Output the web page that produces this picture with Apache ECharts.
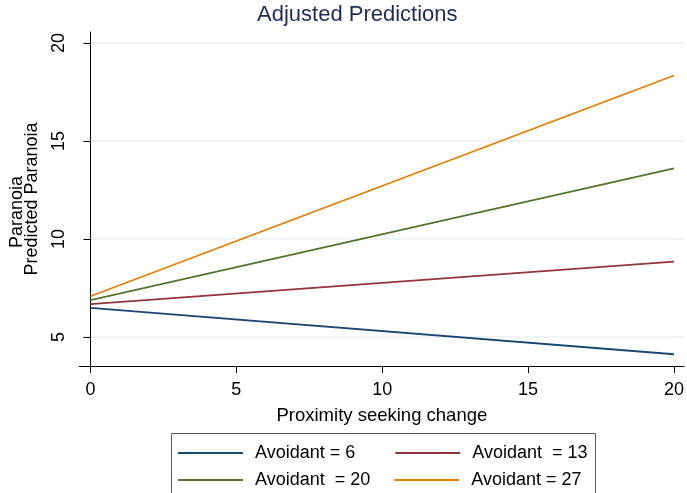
<!DOCTYPE html>
<html>
<head>
<meta charset="utf-8">
<script src="https://cdn.jsdelivr.net/npm/echarts@6/dist/echarts.min.js"></script>
<style>
  html, body { margin: 0; padding: 0; background: #fff; }
  #chart { width: 687px; height: 493px; }
</style>
</head>
<body>
<div id="chart"></div>
<script>
// x positions (Proximity seeking change)
var xVals = [0, 20];
// predicted paranoia at each x, one array per Avoidant level
var avoid6 = [6.49, 4.12];
var avoid13 = [6.68, 8.85];
var avoid20 = [6.88, 13.6];
var avoid27 = [7.08, 18.34];
var seriesNames = ['Avoidant = 6', 'Avoidant  = 13', 'Avoidant  = 20', 'Avoidant = 27'];
var colors = ['#1a476f', '#90353b', '#55752f', '#e37e00'];
var xTicks = [0, 5, 10, 15, 20];
var yTicks = [5, 10, 15, 20];

function pairs(ys) {
  return xVals.map(function (x, i) { return [x, ys[i]]; });
}

var allData = [avoid6, avoid13, avoid20, avoid27];
var font = 'Liberation Sans, Arial, sans-serif';

var legendCommon = {
  orient: 'horizontal',
  left: 178,
  padding: 0,
  itemWidth: 65,
  itemHeight: 2,
  icon: 'rect',
  textStyle: { fontFamily: font, fontSize: 18, color: '#000', padding: [0, 0, 0, 7] }
};

var option = {
  animation: false,
  backgroundColor: '#fff',
  color: colors,
  title: {
    text: 'Adjusted Predictions',
    left: 257,
    top: 4,
    padding: 0,
    textStyle: { fontFamily: font, fontSize: 22, fontWeight: 'normal', color: '#1e2d58' }
  },
  graphic: [{
    type: 'rect',
    shape: { x: 171.5, y: 433.5, width: 424, height: 80 },
    style: { fill: 'none', stroke: '#555', lineWidth: 1 },
    silent: true
  }],
  legend: [
    Object.assign({}, legendCommon, { top: 444, itemGap: 40, data: [seriesNames[0], seriesNames[1]] }),
    Object.assign({}, legendCommon, { top: 471, itemGap: 24, data: [seriesNames[2], seriesNames[3]] })
  ],
  grid: { left: 79, right: 0, top: 32, bottom: 127, containLabel: false },
  xAxis: {
    type: 'value',
    min: -0.375,
    max: 20.35,
    name: 'Proximity seeking change',
    nameLocation: 'middle',
    nameGap: 40,
    nameTextStyle: { fontFamily: font, fontSize: 18.5, color: '#000' },
    axisLine: { show: true, lineStyle: { color: '#000', width: 1 } },
    axisTick: { show: true, length: 7, customValues: xTicks, lineStyle: { color: '#000' } },
    axisLabel: { customValues: xTicks, margin: 15, fontFamily: font, fontSize: 18, color: '#000' },
    splitLine: { show: false }
  },
  yAxis: {
    type: 'value',
    min: 3.52,
    max: 20.56,
    name: '{a|Paranoia}\n{b|Predicted Paranoia}',
    nameLocation: 'middle',
    nameRotate: 90,
    nameGap: 40,
    nameTextStyle: {
      fontFamily: font, fontSize: 18, color: '#000', lineHeight: 15, align: 'center',
      rich: {
        a: { fontFamily: font, fontSize: 18, color: '#000', lineHeight: 15, padding: [0, 26, 0, 0] },
        b: { fontFamily: font, fontSize: 18, color: '#000', lineHeight: 15 }
      }
    },
    axisLine: { show: true, lineStyle: { color: '#000', width: 1 } },
    axisTick: { show: true, length: 7, customValues: yTicks, lineStyle: { color: '#000' } },
    axisLabel: { customValues: yTicks, rotate: 90, margin: 11, fontFamily: font, fontSize: 18, color: '#000' },
    splitLine: { show: true, lineStyle: { color: '#e8eff2', width: 1.5 } }
  },
  series: allData.map(function (d, i) {
    return {
      name: seriesNames[i],
      type: 'line',
      data: pairs(d),
      symbol: 'none',
      lineStyle: { width: 1.8, color: colors[i] },
      itemStyle: { color: colors[i] }
    };
  })
};

var myChart = echarts.init(document.getElementById('chart'), null, { renderer: 'canvas' });
myChart.setOption(option);
</script>
</body>
</html>
